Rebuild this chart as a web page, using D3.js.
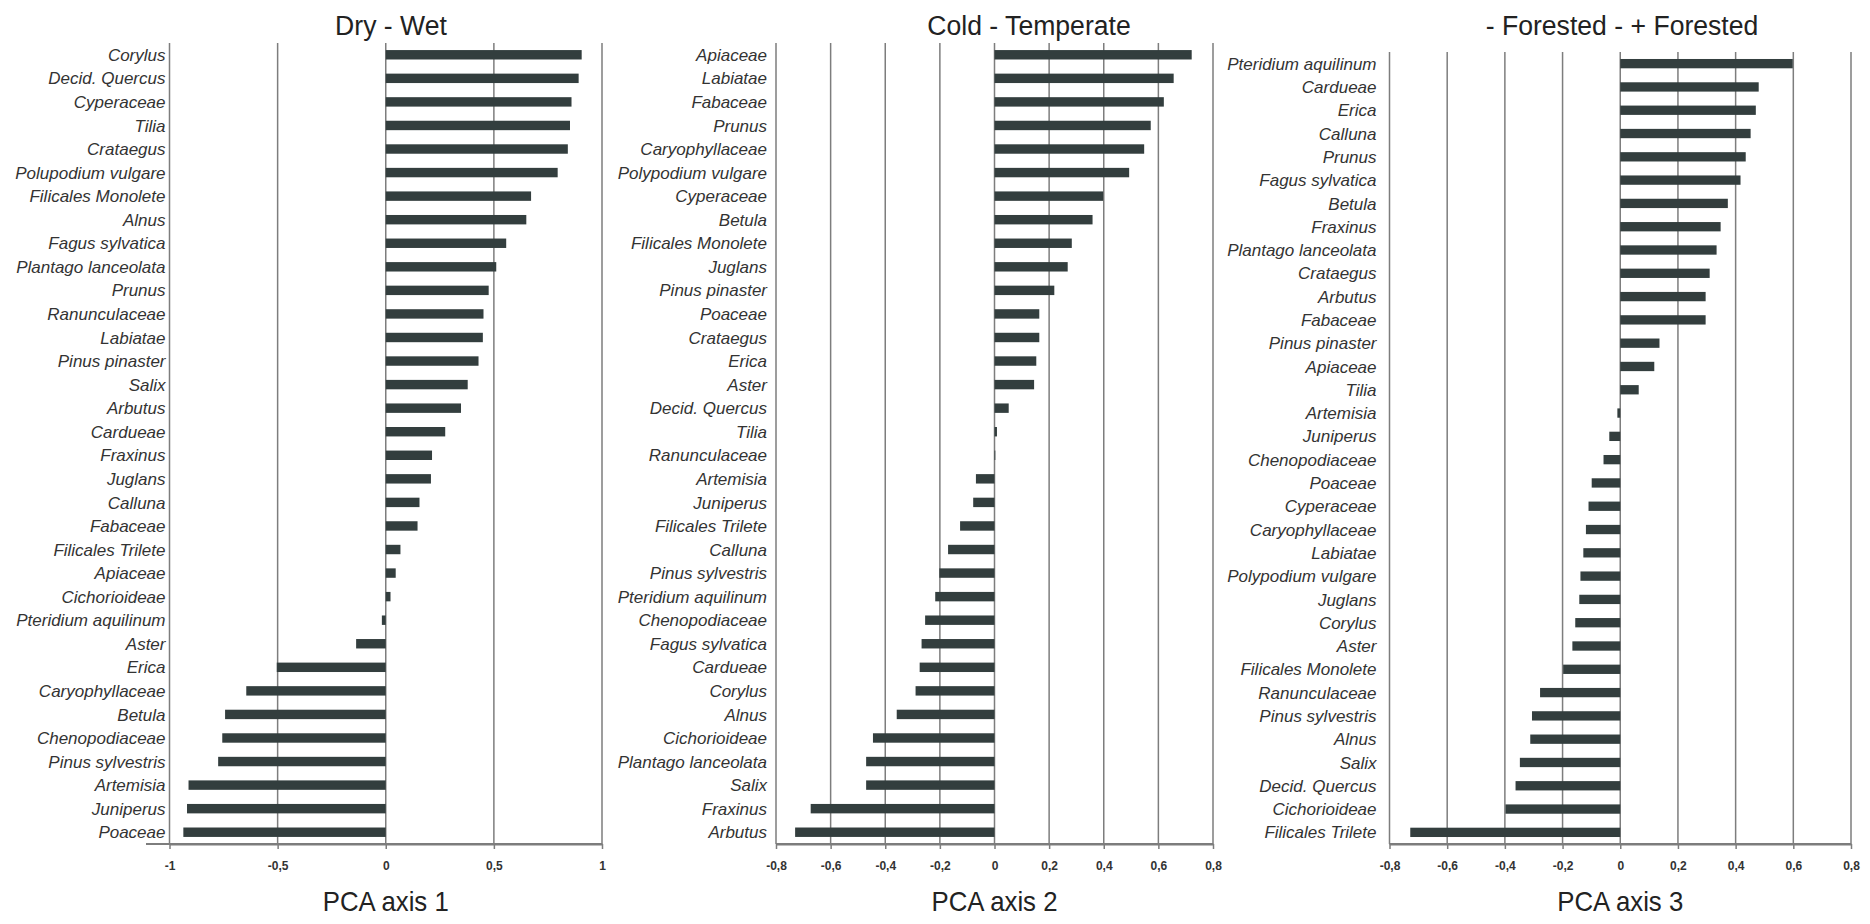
<!DOCTYPE html>
<html>
<head>
<meta charset="utf-8">
<script src="https://cdn.jsdelivr.net/npm/d3@7"></script>
<style>
  html, body { margin: 0; padding: 0; background: #ffffff; }
  svg { display: block; }
</style>
</head>
<body>
<svg id="chart" width="1870" height="924"></svg>
<script>
// ---- PCA loadings of pollen taxa, one panel per axis ----

const axis1Taxa = ["Corylus", "Decid. Quercus", "Cyperaceae", "Tilia", "Crataegus", "Polupodium vulgare",
  "Filicales Monolete", "Alnus", "Fagus sylvatica", "Plantago lanceolata", "Prunus", "Ranunculaceae",
  "Labiatae", "Pinus pinaster", "Salix", "Arbutus", "Cardueae", "Fraxinus", "Juglans", "Calluna",
  "Fabaceae", "Filicales Trilete", "Apiaceae", "Cichorioideae", "Pteridium aquilinum", "Aster", "Erica",
  "Caryophyllaceae", "Betula", "Chenopodiaceae", "Pinus sylvestris", "Artemisia", "Juniperus", "Poaceae"];
const axis1Loadings = [0.906, 0.892, 0.859, 0.852, 0.842, 0.795, 0.672, 0.650, 0.557, 0.511, 0.476, 0.452,
  0.449, 0.429, 0.379, 0.348, 0.275, 0.214, 0.209, 0.156, 0.147, 0.068, 0.046, 0.022, -0.018, -0.137, -0.504,
  -0.645, -0.743, -0.756, -0.775, -0.912, -0.919, -0.936];

const axis2Taxa = ["Apiaceae", "Labiatae", "Fabaceae", "Prunus", "Caryophyllaceae", "Polypodium vulgare",
  "Cyperaceae", "Betula", "Filicales Monolete", "Juglans", "Pinus pinaster", "Poaceae", "Crataegus", "Erica",
  "Aster", "Decid. Quercus", "Tilia", "Ranunculaceae", "Artemisia", "Juniperus", "Filicales Trilete", "Calluna",
  "Pinus sylvestris", "Pteridium aquilinum", "Chenopodiaceae", "Fagus sylvatica", "Cardueae", "Corylus",
  "Alnus", "Cichorioideae", "Plantago lanceolata", "Salix", "Fraxinus", "Arbutus"];
const axis2Loadings = [0.722, 0.656, 0.620, 0.572, 0.548, 0.493, 0.398, 0.359, 0.283, 0.268, 0.219, 0.164,
  0.164, 0.153, 0.145, 0.052, 0.009, 0.003, -0.068, -0.078, -0.126, -0.170, -0.202, -0.217, -0.254, -0.267,
  -0.274, -0.289, -0.358, -0.445, -0.470, -0.470, -0.673, -0.730];

const axis3Taxa = ["Pteridium aquilinum", "Cardueae", "Erica", "Calluna", "Prunus", "Fagus sylvatica",
  "Betula", "Fraxinus", "Plantago lanceolata", "Crataegus", "Arbutus", "Fabaceae", "Pinus pinaster",
  "Apiaceae", "Tilia", "Artemisia", "Juniperus", "Chenopodiaceae", "Poaceae", "Cyperaceae", "Caryophyllaceae",
  "Labiatae", "Polypodium vulgare", "Juglans", "Corylus", "Aster", "Filicales Monolete", "Ranunculaceae",
  "Pinus sylvestris", "Alnus", "Salix", "Decid. Quercus", "Cichorioideae", "Filicales Trilete"];
const axis3Loadings = [0.598, 0.480, 0.470, 0.452, 0.435, 0.417, 0.373, 0.348, 0.334, 0.310, 0.296, 0.296,
  0.136, 0.118, 0.064, -0.010, -0.038, -0.058, -0.099, -0.110, -0.119, -0.128, -0.138, -0.142, -0.156,
  -0.166, -0.198, -0.278, -0.306, -0.312, -0.348, -0.363, -0.398, -0.728];

const panelTitles = ["Dry - Wet", "Cold - Temperate", "- Forested - + Forested"];
const axisTitles = ["PCA axis 1", "PCA axis 2", "PCA axis 3"];

const axis1TickValues = [-1, -0.5, 0, 0.5, 1];
const axis1TickLabels = ["-1", "-0,5", "0", "0,5", "1"];
const axis23TickValues = [-0.8, -0.6, -0.4, -0.2, 0, 0.2, 0.4, 0.6, 0.8];
const axis23TickLabels = ["-0,8", "-0,6", "-0,4", "-0,2", "0", "0,2", "0,4", "0,6", "0,8"];

// ---- layout ----
const panels = [
  { taxa: axis1Taxa, values: axis1Loadings, domain: [-1, 1], ticks: axis1TickValues, tickLabels: axis1TickLabels,
    x0: 169.5, x1: 602, top: 43, labelGap: 4, titleX: 391, baseStart: 146 },
  { taxa: axis2Taxa, values: axis2Loadings, domain: [-0.8, 0.8], ticks: axis23TickValues, tickLabels: axis23TickLabels,
    x0: 776, x1: 1213, top: 43, labelGap: 9, titleX: 1029, baseStart: 776 },
  { taxa: axis3Taxa, values: axis3Loadings, domain: [-0.8, 0.8], ticks: axis23TickValues, tickLabels: axis23TickLabels,
    x0: 1389.5, x1: 1851, top: 52, labelGap: 13, titleX: 1622, baseStart: 1389.5 }
];
const axisY = 844;
const barColor = "#333e3e";
const gridColor = "#7d7d7d";
const fontFamily = "'Liberation Sans', Arial, sans-serif";

const svg = d3.select("#chart");

panels.forEach((p, i) => {
  const g = svg.append("g");
  const x = d3.scaleLinear().domain(p.domain).range([p.x0, p.x1]);
  const y = d3.scaleBand().domain(p.taxa).range([p.top, axisY]).paddingInner(0.6).paddingOuter(0.3);

  // vertical grid lines (the leftmost doubles as the category axis)
  g.selectAll("line.grid").data(p.ticks).join("line")
    .attr("class", "grid")
    .attr("x1", d => x(d)).attr("x2", d => x(d))
    .attr("y1", p.top).attr("y2", axisY)
    .attr("stroke", gridColor).attr("stroke-width", 1.5);

  // bars
  g.selectAll("rect.bar").data(p.taxa.map((t, k) => ({ t, v: p.values[k] }))).join("rect")
    .attr("class", "bar")
    .attr("x", d => x(Math.min(0, d.v)))
    .attr("width", d => Math.abs(x(d.v) - x(0)))
    .attr("y", d => y(d.t))
    .attr("height", y.bandwidth())
    .attr("fill", barColor);

  // taxon labels
  g.selectAll("text.taxon").data(p.taxa).join("text")
    .attr("class", "taxon")
    .attr("x", p.x0 - p.labelGap)
    .attr("y", d => y(d) + y.bandwidth() / 2)
    .attr("dy", "0.36em")
    .attr("text-anchor", "end")
    .attr("font-family", fontFamily)
    .attr("font-style", "italic")
    .attr("font-size", 17)
    .attr("fill", "#333")
    .text(d => d);

  // baseline running slightly past the first grid line
  g.append("line")
    .attr("x1", p.baseStart).attr("x2", p.x1)
    .attr("y1", axisY).attr("y2", axisY)
    .attr("stroke", gridColor).attr("stroke-width", 2);

  // value axis
  const ax = d3.axisBottom(x)
    .tickValues(p.ticks)
    .tickFormat((d, k) => p.tickLabels[k])
    .tickSize(5).tickSizeOuter(0).tickPadding(12);
  const axG = g.append("g").attr("transform", `translate(0,${axisY})`).call(ax);
  axG.select(".domain").attr("stroke", gridColor).attr("stroke-width", 2);
  axG.selectAll(".tick line").attr("stroke", gridColor).attr("stroke-width", 1.5);
  axG.selectAll(".tick text")
    .attr("font-family", fontFamily)
    .attr("font-weight", "bold")
    .attr("font-size", 12)
    .attr("fill", "#333");

  // panel title
  svg.append("text")
    .attr("transform", `translate(${p.titleX},35) scale(0.95,1)`)
    .attr("text-anchor", "middle")
    .attr("font-family", fontFamily)
    .attr("font-size", 28)
    .attr("fill", "#222")
    .text(panelTitles[i]);

  // axis title
  svg.append("text")
    .attr("transform", `translate(${(p.x0 + p.x1) / 2},911) scale(0.92,1)`)
    .attr("text-anchor", "middle")
    .attr("font-family", fontFamily)
    .attr("font-size", 28)
    .attr("fill", "#222")
    .text(axisTitles[i]);
});
</script>
</body>
</html>
